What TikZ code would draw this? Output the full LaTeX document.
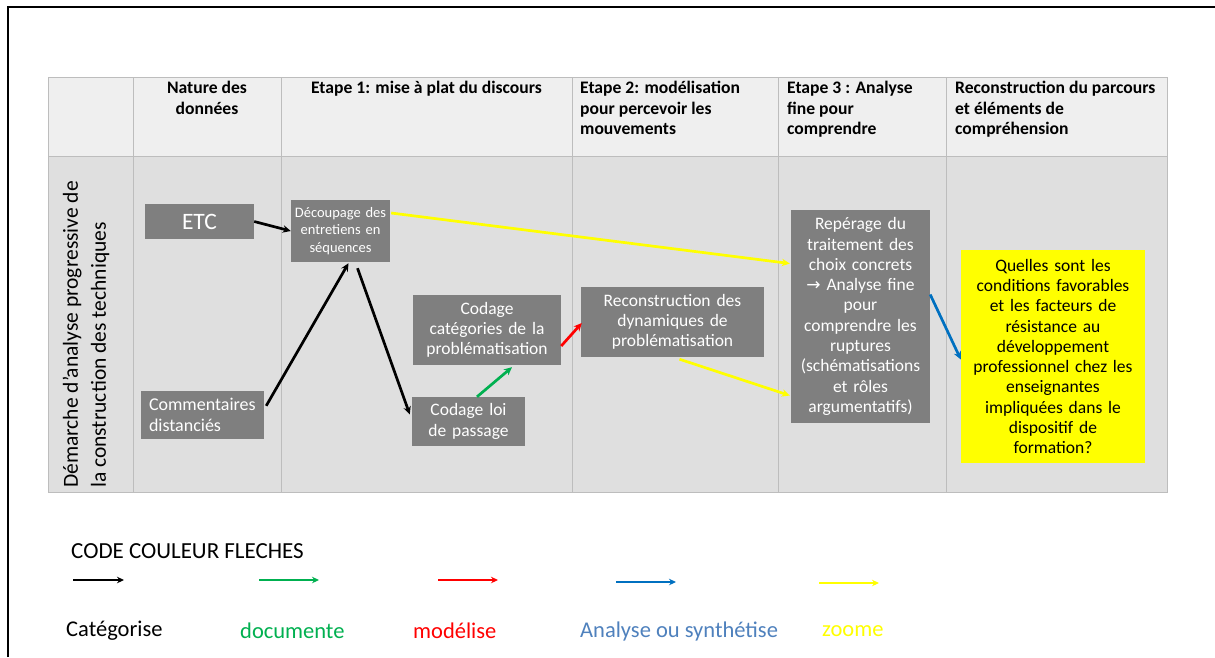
\documentclass[tikz,border=0pt]{standalone}
\usepackage{fontspec}
\setmainfont{Carlito}
\newfontfamily\djv{DejaVu Sans}
\usetikzlibrary{arrows.meta,calc}
\definecolor{boxgray}{HTML}{7F7F7F}
\definecolor{bodybg}{HTML}{DFDFDF}
\definecolor{headbg}{HTML}{EFEFEF}
\definecolor{gridc}{HTML}{BDBDBD}
\definecolor{cgreen}{HTML}{00B050}
\definecolor{cred}{HTML}{FF0000}
\definecolor{cblue}{HTML}{0070C0}
\definecolor{cbluetxt}{HTML}{4F81BD}
\definecolor{cyellow}{HTML}{FFFF00}
\tikzset{
  gbox/.style={fill=boxgray, text=white, inner sep=0pt, align=center, font=\fontsize{17.5}{20.3}\selectfont},
  hdr/.style={inner sep=0pt, font=\bfseries\fontsize{17.6}{20.5}\selectfont, anchor=north west, align=left},
  arr/.style={line width=2.7pt, -{Stealth[length=8pt,width=7.5pt]}},
  leg/.style={anchor=west, inner sep=0pt, font=\fontsize{22.5}{24}\selectfont},
  legarr/.style={line width=2.3pt, -{Stealth[length=7pt,width=6.5pt]}},
}
\begin{document}
\begin{tikzpicture}[x=1pt,y=-1pt]
\useasboundingbox (0,0) rectangle (1215,657);
\fill[white] (0,0) rectangle (1215,657);
% outer frame
\draw[line width=1.5pt] (8,657) -- (8,7) -- (1215,7);
% table
\fill[headbg] (48,77) rectangle (1167,156);
\fill[bodybg] (48,156) rectangle (1167,492);
\draw[gridc, line width=1pt] (48,77) rectangle (1167,492);
\draw[gridc, line width=1pt] (48,156) -- (1167,156);
\foreach \x in {133,281,572,778,946} \draw[gridc, line width=1pt] (\x,77) -- (\x,492);
% headers
\node[hdr, anchor=north, align=center] (h1) at (207,81) {Nature des\\données};
\node[hdr, anchor=north, align=center] (h2) at (426.5,81) {Etape 1: mise à plat du discours};
\node[hdr] (h3) at (580,81) {Etape 2: modélisation\\pour percevoir les\\mouvements};
\node[hdr] (h4) at (787,81) {Etape 3 : Analyse\\fine pour\\comprendre};
\node[hdr] (h5) at (955,81) {Reconstruction du parcours\\et éléments de\\compréhension};
% row label
\node[rotate=90, anchor=west, align=left, inner sep=0pt, font=\fontsize{21.5}{28}\selectfont] (rowlab) at (86,488) {Démarche d’analyse progressive de\\la construction des techniques};
% boxes
\node[gbox, minimum width=109pt, minimum height=35pt, font=\fontsize{23.5}{26}\selectfont] (etc) at (199.5,221.5) {ETC};
\node[gbox, text width=99pt, minimum height=62pt, font=\fontsize{14.5}{17.5}\selectfont] (dec) at (340.5,231) {Découpage des\\entretiens en\\séquences};
\node[gbox, text width=107pt, minimum height=48pt, align=left, inner xsep=8pt, font=\fontsize{18}{20.5}\selectfont] (com) at (202.5,415) {Commentaires\\distanciés};
\node[gbox, text width=148pt, minimum height=70pt] (cat) at (487,330) {Codage\\catégories de la\\problématisation};
\node[gbox, text width=113pt, minimum height=49pt] (loi) at (468.5,421.5) {Codage loi\\de passage};
\node[gbox, text width=183pt, minimum height=70pt] (rec) at (672.5,322) {Reconstruction des\\dynamiques de\\problématisation};
\node[gbox, text width=139pt, minimum height=213pt] (rep) at (860.5,316.5) {Repérage du\\traitement des\\choix concrets\\{\djv\fontsize{17}{20}\selectfont →} Analyse fine\\pour\\comprendre les\\ruptures\\(schématisations\\et rôles\\argumentatifs)};
\node[gbox, fill=cyellow, text=black, text width=184pt, minimum height=213pt] (q) at (1053,356.5) {Quelles sont les\\conditions favorables\\et les facteurs de\\résistance au\\développement\\professionnel chez les\\enseignantes\\impliquées dans le\\dispositif de\\formation?};
% connectors
\draw[arr] (etc.east) -- (dec.west);
\draw[arr] ($(com.north east)+(2,15)$) -- ($(dec.south)+(8,1)$);
\draw[arr] ($(dec.south)+(17,6)$) -- ($(loi.west)+(-2,-7)$);
\draw[arr, cgreen] ($(loi.north)+(8.5,0)$) -- ($(cat.south)+(25,2)$);
\draw[arr, cred] ($(cat.east)+(0,16)$) -- ($(rec.west)+(1,1)$);
\draw[arr, cyellow] ($(dec.east)+(1,-18)$) -- ($(rep.west)+(-1,-53)$);
\draw[arr, cyellow] ($(rec.south)+(7,2)$) -- ($(rep.west)+(-1,79)$);
\draw[arr, cblue] ($(rep.east)+(0,-22)$) -- ($(q.west)+(0,3)$);
% legend
\node[leg, font=\fontsize{23}{24}\selectfont] (legtitle) at (71,551) {CODE COULEUR FLECHES};
\coordinate (a1) at (73,580); \coordinate (b1) at (124,580);
\coordinate (a2) at (259,580); \coordinate (b2) at (319,580);
\coordinate (a3) at (438,580); \coordinate (b3) at (498,580);
\coordinate (a4) at (616,582); \coordinate (b4) at (676,582);
\coordinate (a5) at (819,583); \coordinate (b5) at (879,583);
\draw[legarr] (a1) -- (b1);
\draw[legarr, cgreen] (a2) -- (b2);
\draw[legarr, cred] (a3) -- (b3);
\draw[legarr, cblue] (a4) -- (b4);
\draw[legarr, cyellow] (a5) -- (b5);
\node[leg] (l1) at (66,631) {Catégorise};
\node[leg, text=cgreen] (l2) at (240,631) {documente};
\node[leg, text=cred] (l3) at (413,631) {modélise};
\node[leg, text=cbluetxt] (l4) at (580,631) {Analyse ou synthétise};
\node[leg, text=cyellow] (l5) at (822,631) {zoome};
\end{tikzpicture}
\end{document}
